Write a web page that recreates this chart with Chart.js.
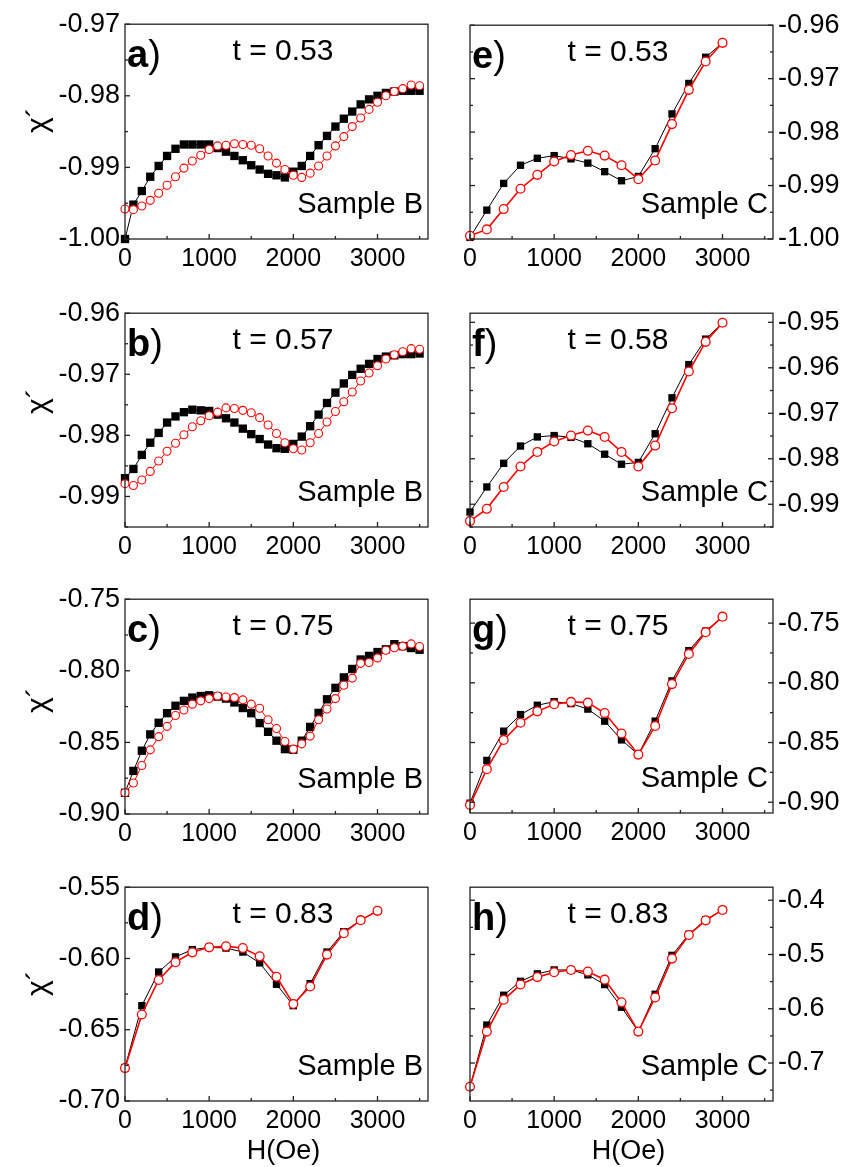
<!DOCTYPE html>
<html>
<head>
<meta charset="utf-8">
<title>chi' vs H</title>
<script src="https://cdn.jsdelivr.net/npm/chart.js@4.4.0/dist/chart.umd.min.js"></script>
<style>
html, body { margin: 0; padding: 0; background: #fff; overflow: hidden; width: 848px; height: 1167px; }
canvas { position: absolute; }
</style>
</head>
<body>
<script>
/* Data */
const fieldB = [0, 100, 200, 300, 400, 500, 600, 700, 800, 900, 1000, 1100, 1200, 1300, 1400, 1500, 1600, 1700,
    1800, 1900, 2000, 2100, 2200, 2300, 2400, 2500, 2600, 2700, 2800, 2900, 3000, 3100, 3200, 3300, 3400, 3500];
const fieldC = [0, 200, 400, 600, 800, 1000, 1200, 1400, 1600, 1800, 2000, 2200, 2400, 2600, 2800, 3000];

const aBlack = [-1.0000, -0.9952, -0.9933, -0.9913, -0.9898, -0.9884, -0.9874, -0.9868, -0.9868, -0.9868, -0.9868, -0.9873,
    -0.9878, -0.9884, -0.9890, -0.9897, -0.9903, -0.9909, -0.9911, -0.9914, -0.9906, -0.9898, -0.9884, -0.9869,
    -0.9856, -0.9843, -0.9832, -0.9822, -0.9812, -0.9805, -0.9800, -0.9796, -0.9794, -0.9793, -0.9793, -0.9793];
const aRed = [-0.9958, -0.9959, -0.9954, -0.9946, -0.9936, -0.9925, -0.9913, -0.9901, -0.9891, -0.9883, -0.9875, -0.9870,
    -0.9869, -0.9867, -0.9868, -0.9869, -0.9874, -0.9884, -0.9894, -0.9903, -0.9911, -0.9914, -0.9908, -0.9898,
    -0.9884, -0.9870, -0.9857, -0.9843, -0.9831, -0.9819, -0.9809, -0.9800, -0.9794, -0.9790, -0.9785, -0.9786];

const bBlack = [-0.9870, -0.9855, -0.9832, -0.9812, -0.9796, -0.9779, -0.9769, -0.9762, -0.9758, -0.9759, -0.9760, -0.9766,
    -0.9772, -0.9779, -0.9789, -0.9798, -0.9806, -0.9815, -0.9821, -0.9822, -0.9814, -0.9802, -0.9785, -0.9766,
    -0.9747, -0.9730, -0.9715, -0.9701, -0.9691, -0.9683, -0.9675, -0.9671, -0.9669, -0.9667, -0.9667, -0.9666];
const bRed = [-0.9879, -0.9882, -0.9873, -0.9859, -0.9842, -0.9826, -0.9813, -0.9799, -0.9786, -0.9776, -0.9768, -0.9762,
    -0.9755, -0.9756, -0.9759, -0.9763, -0.9771, -0.9783, -0.9797, -0.9812, -0.9822, -0.9824, -0.9812, -0.9797,
    -0.9778, -0.9761, -0.9745, -0.9729, -0.9711, -0.9698, -0.9686, -0.9675, -0.9668, -0.9663, -0.9658, -0.9659];

const cBlack = [-0.8852, -0.8699, -0.8558, -0.8444, -0.8363, -0.8296, -0.8244, -0.8210, -0.8187, -0.8176, -0.8171, -0.8180,
    -0.8194, -0.8221, -0.8260, -0.8296, -0.8365, -0.8426, -0.8488, -0.8547, -0.8551, -0.8488, -0.8392, -0.8294,
    -0.8199, -0.8119, -0.8046, -0.7987, -0.7921, -0.7896, -0.7869, -0.7850, -0.7814, -0.7828, -0.7841, -0.7853];
const cRed = [-0.8852, -0.8784, -0.8661, -0.8552, -0.8460, -0.8388, -0.8312, -0.8274, -0.8233, -0.8210, -0.8194, -0.8176,
    -0.8183, -0.8187, -0.8203, -0.8233, -0.8262, -0.8342, -0.8403, -0.8494, -0.8547, -0.8510, -0.8456, -0.8342,
    -0.8267, -0.8194, -0.8101, -0.8051, -0.7948, -0.7942, -0.7910, -0.7857, -0.7839, -0.7828, -0.7812, -0.7830];

const dBlack = [-0.6765, -0.6331, -0.6095, -0.5989, -0.5938, -0.5922, -0.5927, -0.5955, -0.6031, -0.6181, -0.6331, -0.6177,
    -0.5955, -0.5812, -0.5731, -0.5666];
const dRed = [-0.6769, -0.6393, -0.6151, -0.6026, -0.5957, -0.5922, -0.5915, -0.5927, -0.5985, -0.6128, -0.6319, -0.6197,
    -0.5973, -0.5823, -0.5731, -0.5666];

const eBlack = [-0.9997, -0.9946, -0.9896, -0.9862, -0.9849, -0.9844, -0.9850, -0.9858, -0.9874, -0.9891, -0.9883, -0.9831,
    -0.9766, -0.9709, -0.9660, -0.9633];
const eRed = [-0.9994, -0.9982, -0.9944, -0.9906, -0.9880, -0.9855, -0.9843, -0.9835, -0.9844, -0.9862, -0.9888, -0.9853,
    -0.9785, -0.9721, -0.9668, -0.9633];

const fBlack = [-0.9917, -0.9862, -0.9810, -0.9772, -0.9752, -0.9749, -0.9753, -0.9767, -0.9790, -0.9812, -0.9808, -0.9745,
    -0.9666, -0.9593, -0.9537, -0.9501];
const fRed = [-0.9937, -0.9910, -0.9862, -0.9817, -0.9785, -0.9762, -0.9749, -0.9738, -0.9752, -0.9785, -0.9817, -0.9771,
    -0.9689, -0.9608, -0.9543, -0.9501];

const gBlack = [-0.9008, -0.8650, -0.8405, -0.8266, -0.8188, -0.8158, -0.8174, -0.8220, -0.8321, -0.8478, -0.8601, -0.8321,
    -0.7984, -0.7731, -0.7568, -0.7446];
const gRed = [-0.9022, -0.8723, -0.8478, -0.8334, -0.8239, -0.8179, -0.8160, -0.8166, -0.8253, -0.8424, -0.8601, -0.8361,
    -0.8011, -0.7758, -0.7576, -0.7446];

const hBlack = [-0.7437, -0.6301, -0.5751, -0.5494, -0.5357, -0.5285, -0.5285, -0.5375, -0.5554, -0.5972, -0.6421, -0.5733,
    -0.5016, -0.4628, -0.4359, -0.4179];
const hRed = [-0.7437, -0.6421, -0.5835, -0.5554, -0.5417, -0.5327, -0.5285, -0.5315, -0.5464, -0.5882, -0.6421, -0.5793,
    -0.5076, -0.4640, -0.4371, -0.4179];

/* Tick labels */
const xTicks = [0, 1000, 2000, 3000];
const yTicksA = [-1.00, -0.99, -0.98, -0.97];
const yTicksB = [-0.99, -0.98, -0.97, -0.96];
const yTicksC = [-0.90, -0.85, -0.80, -0.75];
const yTicksD = [-0.70, -0.65, -0.60, -0.55];
const yTicksE = [-1.00, -0.99, -0.98, -0.97, -0.96];
const yTicksF = [-0.99, -0.98, -0.97, -0.96, -0.95];
const yTicksG = [-0.90, -0.85, -0.80, -0.75];
const yTicksH = [-0.7, -0.6, -0.5, -0.4];

const tLabels = ["0.53", "0.57", "0.75", "0.83", "0.53", "0.58", "0.75", "0.83"];

/* Panels */
const panels = [
    { letter: "a", col: 0, box: [125, 19, 303, 220], H: fieldB, black: aBlack, red: aRed, yMin: -1.00, yMax: -0.97, yTicks: yTicksA, dec: 2, sample: "Sample B", chiY: 96 },
    { letter: "b", col: 0, box: [125, 308, 303, 219], H: fieldB, black: bBlack, red: bRed, yMin: -0.995, yMax: -0.96, yTicks: yTicksB, dec: 2, sample: "Sample B", chiY: 88 },
    { letter: "c", col: 0, box: [125, 594, 303, 220], H: fieldB, black: cBlack, red: cRed, yMin: -0.90, yMax: -0.75, yTicks: yTicksC, dec: 2, sample: "Sample B", chiY: 101 },
    { letter: "d", col: 0, box: [125, 882, 303, 219], H: fieldC, black: dBlack, red: dRed, yMin: -0.70, yMax: -0.55, yTicks: yTicksD, dec: 2, sample: "Sample B", chiY: 96, bottom: true },
    { letter: "e", col: 1, box: [470, 20, 303, 219], H: fieldC, black: eBlack, red: eRed, yMin: -1.00, yMax: -0.96, yTicks: yTicksE, dec: 2, sample: "Sample C" },
    { letter: "f", col: 1, box: [470, 308, 303, 219], H: fieldC, black: fBlack, red: fRed, yMin: -0.995, yMax: -0.948, yTicks: yTicksF, dec: 2, sample: "Sample C" },
    { letter: "g", col: 1, box: [470, 594, 303, 219], H: fieldC, black: gBlack, red: gRed, yMin: -0.909, yMax: -0.730, yTicks: yTicksG, dec: 2, sample: "Sample C" },
    { letter: "h", col: 1, box: [470, 882, 303, 219], H: fieldC, black: hBlack, red: hRed, yMin: -0.770, yMax: -0.376, yTicks: yTicksH, dec: 1, sample: "Sample C", bottom: true },
];

const FONT = "'Liberation Sans', Arial, Helvetica, sans-serif";

function toPoints(xs, ys) {
    return xs.map((x, i) => ({ x: x, y: ys[i] }));
}

// inward tick marks, frame and the text of one panel
function decor(p, tIndex) {
    return {
        id: "decor" + p.letter,
        afterDraw(chart) {
            const ctx = chart.ctx;
            const { left, right, top, bottom } = chart.chartArea;
            const xs = chart.scales.x, ys = chart.scales.y;
            ctx.save();
            ctx.strokeStyle = "#222";
            ctx.lineWidth = 1.3;

            // y ticks (major + half-step minor)
            const yStep = (p.yTicks[1] - p.yTicks[0]) / 2;
            const sides = p.col === 0 ? [left] : [left, right];
            for (let k = -12; k <= 24; k++) {
                const v = p.yTicks[0] + k * yStep;
                if (v < ys.min - 1e-9 || v > ys.max + 1e-9) continue;
                const py = ys.getPixelForValue(v);
                const len = k % 2 === 0 ? 5 : 3;
                sides.forEach(sx => {
                    const dir = sx === left ? 1 : -1;
                    ctx.beginPath();
                    ctx.moveTo(sx, py);
                    ctx.lineTo(sx + dir * len, py);
                    ctx.stroke();
                });
            }
            // x ticks
            for (let v = 0; v <= xs.max; v += 500) {
                const px = xs.getPixelForValue(v);
                const len = v % 1000 === 0 ? 5 : 3;
                ctx.beginPath();
                ctx.moveTo(px, bottom);
                ctx.lineTo(px, bottom - len);
                ctx.stroke();
            }
            ctx.strokeRect(left, top, right - left, bottom - top);

            ctx.fillStyle = "#000";
            ctx.textBaseline = "alphabetic";
            // panel letter
            ctx.textAlign = "left";
            ctx.font = "bold 38px " + FONT;
            ctx.fillText(p.letter, left + 2, top + 43);
            const lw = ctx.measureText(p.letter).width;
            ctx.font = "38px " + FONT;
            ctx.fillText(")", left + 2 + lw, top + 43);
            // temperature
            ctx.textAlign = "center";
            ctx.font = "30px " + FONT;
            ctx.fillText("t = " + tLabels[tIndex], left + (p.col === 0 ? 158 : 148), top + 36);
            // sample
            ctx.textAlign = "right";
            ctx.font = "29px " + FONT;
            ctx.fillText(p.sample, right - 5, bottom - 26);
            // axis titles
            if (p.bottom) {
                ctx.textAlign = "center";
                ctx.font = "27px " + FONT;
                ctx.fillText("H(Oe)", (left + right) / 2 + 7, bottom + 58);
            }
            if (p.col === 0) {
                ctx.translate(47, top + p.chiY);
                ctx.rotate(-Math.PI / 2);
                ctx.textAlign = "center";
                ctx.font = "30px " + FONT;
                ctx.fillText("\u03C7\u00B4", 0, 0);
            }
            ctx.restore();
        }
    };
}

panels.forEach((p, i) => {
    const [bx, by, bw, bh] = p.box;
    const L = p.col === 0 ? 125 : 14;
    const R = p.col === 0 ? 14 : 75;
    const T = 16;
    const B = p.bottom ? 75 : 45;

    const canvas = document.createElement("canvas");
    canvas.width = bw + L + R;
    canvas.height = bh + T + B;
    canvas.style.left = (bx - L) + "px";
    canvas.style.top = (by - T) + "px";
    canvas.style.width = canvas.width + "px";
    canvas.style.height = canvas.height + "px";
    document.body.appendChild(canvas);

    const left = p.col === 0;
    // sparse sets (step 200) use the larger circles and thicker red line
    const sparse = p.H === fieldC;
    new Chart(canvas, {
        type: "scatter",
        data: {
            // first dataset ends up on top: red circles over black squares
            datasets: [{
                data: toPoints(p.H, p.red),
                showLine: true,
                borderColor: "#ff0000",
                borderWidth: sparse ? 1.6 : 1,
                pointStyle: "circle",
                pointRadius: sparse ? 4.4 : 4.0,
                pointBackgroundColor: "#ffffff",
                pointBorderColor: "#ff0000",
                pointBorderWidth: sparse ? 1.3 : 1.1,
                clip: false
            }, {
                data: toPoints(p.H, p.black),
                showLine: true,
                borderColor: "#000000",
                borderWidth: 1,
                pointStyle: "rect",
                pointRadius: sparse ? 5.2 : 5.9,
                pointBackgroundColor: "#000000",
                pointBorderColor: "#000000",
                pointBorderWidth: 0,
                clip: false
            }]
        },
        options: {
            responsive: false,
            animation: false,
            devicePixelRatio: 1,
            events: [],
            layout: { padding: { top: T, bottom: 0, left: left ? 0 : L, right: left ? R : 0 } },
            plugins: { legend: { display: false }, tooltip: { enabled: false } },
            scales: {
                x: {
                    type: "linear",
                    min: 0,
                    max: 3600,
                    grid: { display: false, drawTicks: false },
                    border: { display: false },
                    ticks: {
                        color: "#000",
                        font: { family: FONT, size: 25 },
                        padding: 5,
                        autoSkip: false,
                        maxRotation: 0,
                        callback: v => String(v)
                    },
                    afterBuildTicks: ax => { ax.ticks = xTicks.map(v => ({ value: v })); },
                    afterFit: ax => { ax.height = B; }
                },
                y: {
                    type: "linear",
                    position: left ? "left" : "right",
                    min: p.yMin,
                    max: p.yMax,
                    grid: { display: false, drawTicks: false },
                    border: { display: false },
                    ticks: {
                        color: "#000",
                        font: { family: FONT, size: 27 },
                        padding: 5,
                        autoSkip: false,
                        callback: v => Number(v).toFixed(p.dec)
                    },
                    afterBuildTicks: ax => { ax.ticks = p.yTicks.map(v => ({ value: v })); },
                    afterFit: ax => { ax.width = left ? L : R; }
                }
            }
        },
        plugins: [decor(p, i)]
    });
});
</script>
</body>
</html>
